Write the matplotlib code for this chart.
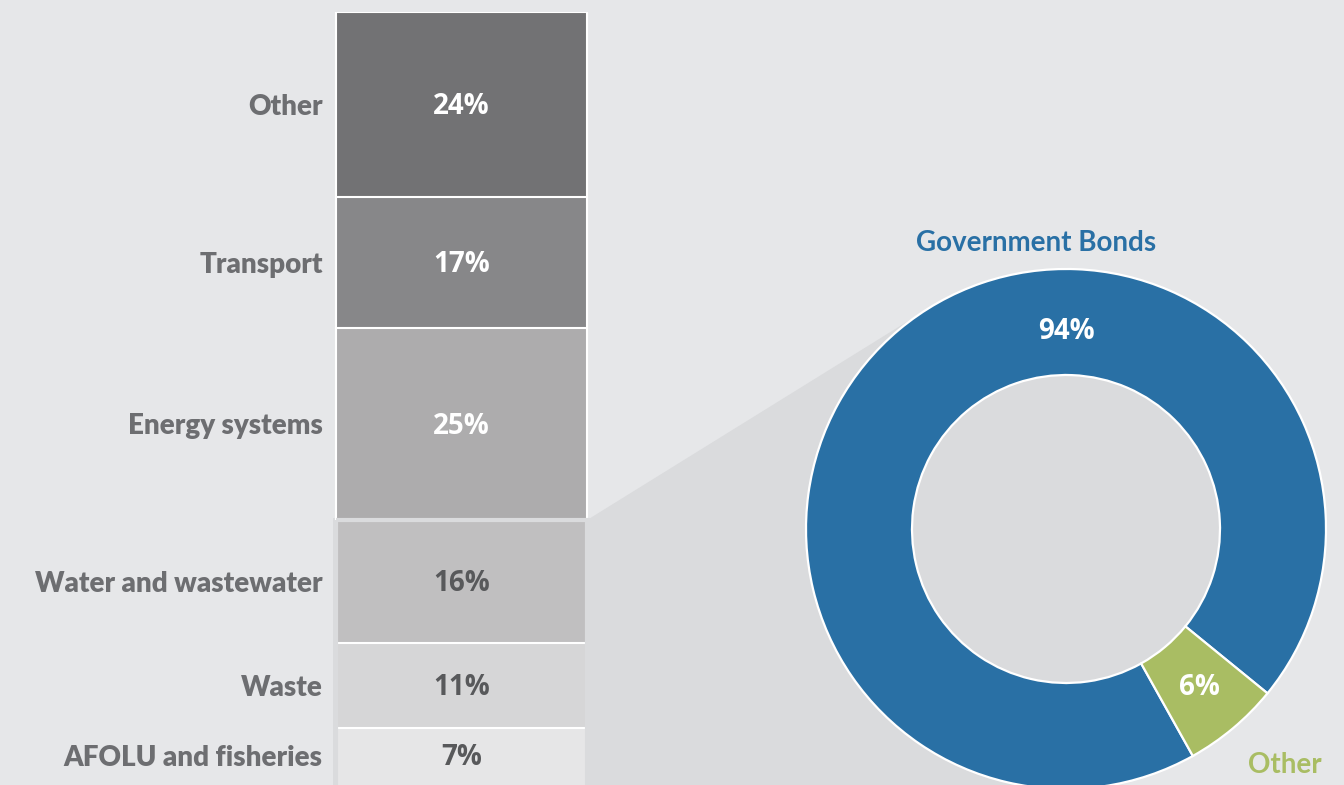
import numpy as np
import matplotlib.pyplot as plt
from matplotlib import font_manager as fm
from matplotlib.patches import Polygon, Rectangle, Circle

# sector breakdown (stacked column, top to bottom)
sectors = ["Other", "Transport", "Energy systems", "Water and wastewater",
           "Waste", "AFOLU and fisheries"]
sector_share = [24, 17, 25, 16, 11, 7]
sector_colors = ["#727274", "#878789", "#adacad", "#c0bfc0", "#d6d6d7", "#e6e6e7"]
sector_text = ["white", "white", "white", "#58595b", "#58595b", "#58595b"]

# instrument breakdown for the highlighted sectors (donut)
instruments = ["Government Bonds", "Other"]
instrument_share = [94, 6]
instrument_colors = ["#2970a5", "#a9bd63"]

BG = "#e6e7e9"
SHADE = "#dadbdd"
LABEL = "#6d6e71"
W, H = 1344, 785


def pick_font(family, size, min_weight=700):
    # choose the lightest face of the family that is at least min_weight
    best = None
    for f in fm.fontManager.ttflist:
        w = f.weight if isinstance(f.weight, int) else 700
        if f.name == family and f.style == "normal" and w >= min_weight:
            if best is None or w < best[0]:
                best = (w, f.fname)
    if best is None:
        return fm.FontProperties(family=family, weight="bold", size=size)
    return fm.FontProperties(fname=best[1], size=size)


lato_heavy = pick_font("Lato", 20, 800)
lato = pick_font("Lato", 20, 700)
opensans = pick_font("Open Sans", 20)

fig = plt.figure(figsize=(W / 100, H / 100), dpi=100, facecolor=BG)

# background layer in pixel units for the connector shading
bg = fig.add_axes([0, 0, 1, 1], zorder=0)
bg.set_xlim(0, W)
bg.set_ylim(H, 0)
bg.axis("off")

# stacked column
bar_left, bar_right, bar_top, px_per_pct = 336, 587, 12, 7.7
bar_h = 100 * px_per_pct
axb = fig.add_axes([bar_left / W, (H - bar_top - bar_h) / H,
                    (bar_right - bar_left) / W, bar_h / H], zorder=2)
axb.patch.set_alpha(0)
bottoms = np.concatenate([[0], np.cumsum(sector_share)[:-1]])
bars = axb.bar(0, sector_share, bottom=bottoms, width=1,
               color=sector_colors, linewidth=0)
bars[-1].set_height(sector_share[-1] + 1)   # let the last block run off the page
bars[-1].set_clip_on(False)
axb.hlines(bottoms, -0.5, 0.5, color="white", linewidth=1.5)
axb.vlines([-0.5, 0.5], 0, bottoms[3], color="white", linewidth=1.5, clip_on=False)
axb.set_xlim(-0.5, 0.5)
axb.set_ylim(100, 0)
mids = bottoms + np.array(sector_share) / 2
axb.set_yticks(mids, labels=sectors)
axb.tick_params(axis="y", length=0, pad=9.5, labelcolor=LABEL)
for t in axb.get_yticklabels():
    t.set_fontproperties(lato_heavy)
axb.set_xticks([])
for s in axb.spines.values():
    s.set_visible(False)
for m, v, c in zip(mids, sector_share, sector_text):
    axb.annotate(f"{v}%", (0, m), xytext=(0, -1.5), textcoords="offset points",
                 ha="center", va="center", color=c, fontproperties=opensans)

# highlight box around the bottom three sectors
hl_top = bar_top + bottoms[3] * px_per_pct
axb.add_patch(Rectangle((-0.5, bottoms[3]), 1, 100 - bottoms[3] + 2,
                        fill=False, edgecolor=SHADE, linewidth=3, clip_on=False,
                        zorder=4))

# donut geometry (pixels)
cx, cy, R, r_in = 1066, 529, 260, 154
px_, py_ = 590, hl_top - 2
d = np.hypot(cx - px_, cy - py_)
base = np.arctan2(cy - py_, cx - px_)
ang = base - np.arcsin(R / d)
L = np.sqrt(d ** 2 - R ** 2)
tx, ty = px_ + L * np.cos(ang), py_ + L * np.sin(ang)
bg.add_patch(Polygon([(px_, py_), (tx, ty), (cx, cy), (cx, H), (px_, H)],
                     closed=True, facecolor=SHADE, edgecolor="none"))
bg.add_patch(Rectangle((333, py_), px_ - 333, H - py_, facecolor=SHADE,
                       edgecolor="none"))

# donut
lim = 1.05
half = R * lim
axp = fig.add_axes([(cx - half) / W, (H - cy - half) / H, 2 * half / W, 2 * half / H],
                   zorder=2)
axp.patch.set_alpha(0)
axp.add_patch(Circle((0, 0), r_in / R, facecolor=SHADE, edgecolor="none"))
start = -39.2
wedges, _ = axp.pie(instrument_share, colors=instrument_colors, radius=1,
                    startangle=start, counterclock=True,
                    wedgeprops=dict(width=(R - r_in) / R, edgecolor="white",
                                    linewidth=1.6))
axp.set_xlim(-lim, lim)
axp.set_ylim(-lim, lim)
axp.axis("off")

# donut labels
frac = np.array(instrument_share) / sum(instrument_share)
starts = start + 360 * np.concatenate([[0], np.cumsum(frac)[:-1]])
mid_ang = np.deg2rad(starts + 360 * frac / 2)
rm = (1 + r_in / R) / 2
axp.text(0, 0.76, f"{instrument_share[0]}%", ha="center", va="center",
         color="white", fontproperties=opensans)
axp.text(rm * np.cos(mid_ang[1]), rm * np.sin(mid_ang[1]), f"{instrument_share[1]}%",
         ha="center", va="center", color="white", fontproperties=opensans)
bg.text(1036, 243, instruments[0], ha="center", va="center", color=instrument_colors[0],
        fontproperties=lato)
bg.text(1285, 765, instruments[1], ha="center", va="center", color=instrument_colors[1],
        fontproperties=lato)

fig.savefig("out.png", dpi=100, facecolor=BG)
